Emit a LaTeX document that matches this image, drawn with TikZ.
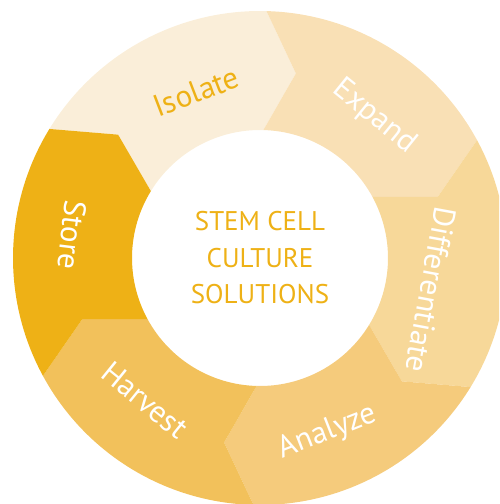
\documentclass[tikz,border=0pt]{standalone}
\usepackage{fontspec}
\setmainfont{PT Sans}
\usepackage{tikz}
\usetikzlibrary{positioning}
\definecolor{isolatecol}{HTML}{FAEED9}
\definecolor{expandcol}{HTML}{F9E0B5}
\definecolor{diffcol}{HTML}{F7D899}
\definecolor{analyzecol}{HTML}{F5CB7C}
\definecolor{harvestcol}{HTML}{F2C15B}
\definecolor{storecol}{HTML}{EEB116}

\begin{document}
\begin{tikzpicture}[x=1pt, y=1pt,
		steplabel/.style={font=\fontsize{31}{31}\selectfont, text=white, inner sep=0pt}]
				\useasboundingbox (-260,-246) rectangle (239,258);
				\clip (-260,-246) rectangle (239,258);

				\fill[isolatecol] (148.5:247) arc[start angle=148.5, end angle=88.5, radius=247]
					-- (79:188) -- (88.5:128) arc[start angle=88.5, end angle=148.5, radius=128]
					-- (139:188) -- cycle;
				\fill[expandcol] (88.5:247) arc[start angle=88.5, end angle=28.5, radius=247]
					-- (19:188) -- (28.5:128) arc[start angle=28.5, end angle=88.5, radius=128]
					-- (79:188) -- cycle;
				\fill[diffcol] (28.5:247) arc[start angle=28.5, end angle=-31.5, radius=247]
					-- (-41:188) -- (-31.5:128) arc[start angle=-31.5, end angle=28.5, radius=128]
					-- (19:188) -- cycle;
				\fill[analyzecol] (-31.5:247) arc[start angle=-31.5, end angle=-91.5, radius=247]
					-- (-101:188) -- (-91.5:128) arc[start angle=-91.5, end angle=-31.5, radius=128]
					-- (-41:188) -- cycle;
				\fill[harvestcol] (-91.5:247) arc[start angle=-91.5, end angle=-151.5, radius=247]
					-- (-161:188) -- (-151.5:128) arc[start angle=-151.5, end angle=-91.5, radius=128]
					-- (-101:188) -- cycle;
				\fill[storecol] (208.5:247) arc[start angle=208.5, end angle=148.5, radius=247]
					-- (139:188) -- (148.5:128) arc[start angle=148.5, end angle=208.5, radius=128]
					-- (199:188) -- cycle;

				\node[align=center, text=storecol, font=\fontsize{27}{36.5}\selectfont] (title) at (0,0) {STEM CELL\\CULTURE\\SOLUTIONS};

				\node[steplabel, text=storecol, rotate=21] (isolate) at (111:178) {Isolate};
				\node[steplabel, rotate=-39] (expand) at (51:182) {Expand};
				\node[steplabel, rotate=-100.5] (differentiate) at (-10.5:174) {Differentiate};
				\node[steplabel, rotate=21.3] (analyze) at (-68.7:187) {Analyze};
				\node[steplabel, rotate=-39] (harvest) at (-129:183) {Harvest};
				\node[steplabel, rotate=-97] (store) at (173:189) {Store};
			\end{tikzpicture}
\end{document}
